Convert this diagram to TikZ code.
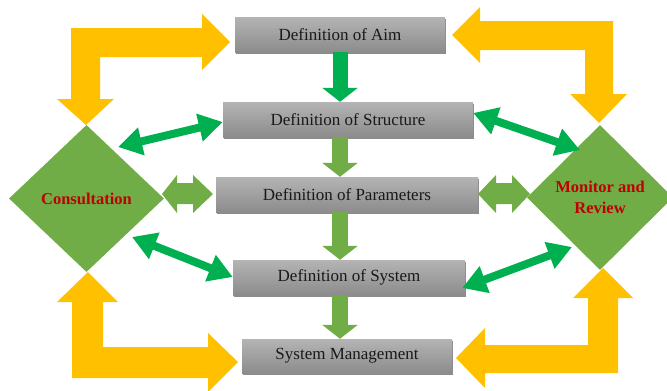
\documentclass[tikz,border=0pt]{standalone}
\usepackage{fontspec}
\setmainfont{Liberation Serif}
\usetikzlibrary{arrows.meta,shapes.geometric,shadows,calc}
\definecolor{ygold}{HTML}{FFC000}
\definecolor{dgreen}{HTML}{00B050}
\definecolor{lgreen}{HTML}{70AD47}
\definecolor{dred}{HTML}{C00000}
\definecolor{boxtop}{HTML}{B4B4B4}
\definecolor{boxbot}{HTML}{8C8C8C}
\begin{document}
\begin{tikzpicture}[x=1pt,y=-1pt,
  stepbox/.style={rectangle, inner sep=0pt, minimum height=35pt,
    top color=boxtop, bottom color=boxbot, draw=none,
    drop shadow={shadow xshift=1pt, shadow yshift=-2pt, fill=black, opacity=0.45},
    font=\fontsize{17}{20}\selectfont, text=black!90},
  riskdiamond/.style={diamond, shape aspect=1, inner sep=0pt, fill=lgreen, draw=none,
    text=dred, font=\bfseries\fontsize{16.5}{21}\selectfont, align=center},
  downarrow/.style={draw=#1, line width=16pt, -{Triangle[length=14pt,width=35pt]}},
  dblarrow/.style={draw=dgreen, line width=8pt,
    {Triangle[length=24pt,width=27pt]}-{Triangle[length=24pt,width=27pt]}},
  blockarrow/.style={fill=#1, draw=none}]
\useasboundingbox (0,0) rectangle (667,391);

% yellow L-shaped arrows
\fill[blockarrow=ygold] (86,125) -- (114,99) -- (100,99) -- (100,57) -- (202,57) -- (202,70)
  -- (230,42) -- (202,14) -- (202,28) -- (71,28) -- (71,99) -- (57,99) -- cycle;
\fill[blockarrow=ygold] (452,35) -- (480,7) -- (480,21) -- (613,21) -- (613,94) -- (627,94)
  -- (599,123) -- (570,94) -- (585,94) -- (585,50) -- (480,50) -- (480,63) -- cycle;
\fill[blockarrow=ygold] (88,272) -- (118,302) -- (103,302) -- (103,347) -- (208,347) -- (208,333)
  -- (238,362) -- (208,392) -- (208,378) -- (72,378) -- (72,302) -- (57,302) -- cycle;
\fill[blockarrow=ygold] (456,358) -- (485,328) -- (485,345) -- (588,345) -- (588,298) -- (573,298)
  -- (603,268) -- (633,298) -- (618,298) -- (618,373) -- (485,373) -- (485,388) -- cycle;

% diamonds
\node[riskdiamond, minimum width=155pt, minimum height=147pt] (cons) at (86.5,198.5) {Consultation};
\node[riskdiamond, minimum width=146pt, minimum height=145pt] (mon) at (600,197.5) {Monitor and\\Review};

% boxes
\node[stepbox, minimum width=210pt] (aim) at (340,34.5) {Definition of Aim};
\node[stepbox, minimum width=250pt] (struct) at (348,119.5) {Definition of Structure};
\node[stepbox, minimum width=262pt] (param) at (347,194.5) {Definition of Parameters};
\node[stepbox, minimum width=232pt] (sys) at (349,277.5) {Definition of System};
\node[stepbox, minimum width=210pt, minimum height=34pt] (mgmt) at (347,356) {System Management};

% vertical arrows
\draw[downarrow=dgreen, line width=15pt] (aim.south) -- (aim.south |- struct.north);
\draw[downarrow=lgreen] (struct.south -| aim.south) -- (aim.south |- param.north);
\draw[downarrow=lgreen] (param.south -| aim.south) -- (aim.south |- sys.north);
\draw[downarrow=lgreen] (sys.south -| aim.south) -- (aim.south |- mgmt.north);

% double arrows (dark green)
\coordinate (c1) at (118,147);
\coordinate (s1) at ($(struct.west)+(0,2.5)$);
\coordinate (s2) at ($(struct.east)+(0,-6.5)$);
\coordinate (m1) at (580,150);
\coordinate (c2) at (132,237);
\coordinate (y1) at ($(sys.west)+(0,-0.5)$);
\coordinate (y2) at ($(sys.east)+(-3,10.5)$);
\coordinate (m2) at (572,247);
\draw[dblarrow] (c1) -- (s1);
\draw[dblarrow] (s2) -- (m1);
\draw[dblarrow] (c2) -- (y1);
\draw[dblarrow] (y2) -- (m2);

% light-green notched double arrows
\fill[blockarrow=lgreen] (162,194) -- (177,175) -- (177,183) -- (193,183) -- (193,175) -- (213,194)
  -- (193,213) -- (193,204) -- (177,204) -- (177,213) -- cycle;
\fill[blockarrow=lgreen] (478,194) -- (496,175) -- (496,183) -- (512,183) -- (512,175) -- (530,194)
  -- (512,213) -- (512,204) -- (496,204) -- (496,213) -- cycle;
\end{tikzpicture}
\end{document}
